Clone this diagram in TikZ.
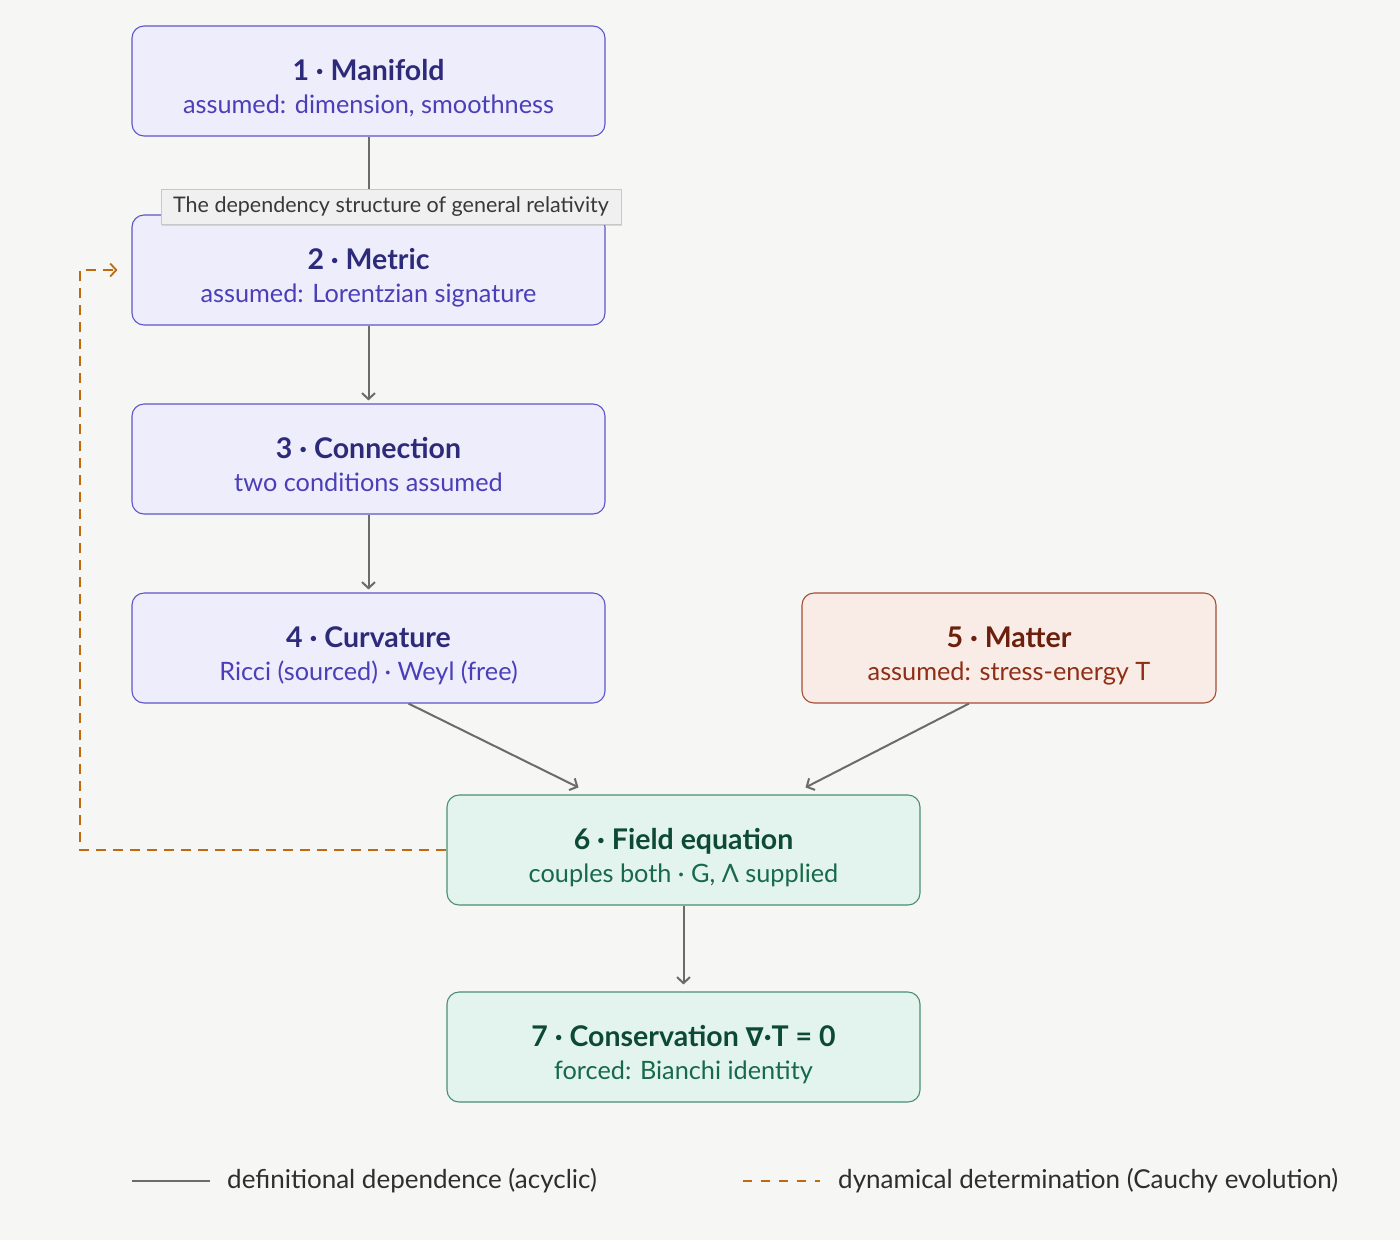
\documentclass[tikz,border=0pt]{standalone}
\usepackage{fontspec}
\setmainfont{Lato}
\newfontfamily\symfont{DejaVu Sans}
\usetikzlibrary{arrows.meta,calc,shadows}
\definecolor{bg}{HTML}{F6F7F4}
\definecolor{pfill}{HTML}{EEEDFC}
\definecolor{pdraw}{HTML}{5E55CA}
\definecolor{ptitle}{HTML}{2E2A7A}
\definecolor{psub}{HTML}{4A3FB8}
\definecolor{mfill}{HTML}{F9EBE6}
\definecolor{mdraw}{HTML}{A64D33}
\definecolor{mtitle}{HTML}{6B1F0C}
\definecolor{msub}{HTML}{8F2E14}
\definecolor{gfill}{HTML}{E3F4EE}
\definecolor{gdraw}{HTML}{4A8F74}
\definecolor{gtitle}{HTML}{0D4A35}
\definecolor{gsub}{HTML}{17694B}
\definecolor{edge}{HTML}{6B6B69}
\definecolor{dyn}{HTML}{BF6A0E}
\tikzset{
  box/.style={rounded corners=12pt, line width=1.1pt, minimum width=473pt, minimum height=110pt, inner sep=0pt},
  pbox/.style={box, fill=pfill, draw=pdraw},
  mbox/.style={box, fill=mfill, draw=mdraw, minimum width=414pt},
  gbox/.style={box, fill=gfill, draw=gdraw},
  ttl/.style={anchor=base, inner sep=0pt, font=\fontsize{28.5}{32}\selectfont\bfseries},
  sub/.style={anchor=base, inner sep=0pt, font=\fontsize{25.3}{29}\selectfont},
  defdep/.style={draw=edge, line width=2pt, -{Straight Barb[length=6pt,width=13pt]}},
  dynline/.style={draw=dyn, line width=1.8pt, dash pattern=on 10pt off 7pt},
  legtext/.style={anchor=west, font=\fontsize{26}{30}\selectfont, text=black!82, inner sep=0pt},
}
% \boxnode{name}{style}{x}{y}{titlecolor}{title}{subcolor}{sub}
\newcommand{\boxnode}[8]{%
  \node[#2] (#1) at (#3,#4) {};
  \node[ttl, text=#5] (#1-t) at ($(#1.center)+(0,-1)$) {#6};
  \node[sub, text=#7] (#1-s) at ($(#1.center)+(0,32)$) {#8};
}
\begin{document}
\begin{tikzpicture}[x=1pt,y=-1pt]
\fill[bg] (0,0) rectangle (1400,1240);
\useasboundingbox (0,0) rectangle (1400,1240);

\boxnode{b1}{pbox}{368.5}{81}{ptitle}{1 · Manifold}{psub}{assumed: dimension, smoothness}
\boxnode{b2}{pbox}{368.5}{270}{ptitle}{2 · Metric}{psub}{assumed: Lorentzian signature}
\boxnode{b3}{pbox}{368.5}{459}{ptitle}{3 · Connection}{psub}{two conditions assumed}
\boxnode{b4}{pbox}{368.5}{648}{ptitle}{4 · Curvature}{psub}{Ricci (sourced) · Weyl (free)}
\boxnode{b5}{mbox}{1009}{648}{mtitle}{5 · Matter}{msub}{assumed: stress-energy T}
\boxnode{b6}{gbox}{683.5}{850}{gtitle}{6 · Field equation}{gsub}{couples both · G, Λ supplied}
\boxnode{b7}{gbox}{683.5}{1047}{gtitle}{7 · Conservation {\symfont\fontsize{26}{30}\selectfont\bfseries ∇}·T = 0}{gsub}{forced: Bianchi identity}

\draw[defdep, shorten >=3pt] (b1) -- (b2);
\draw[defdep, shorten >=3pt] (b2) -- (b3);
\draw[defdep, shorten >=3pt] (b3) -- (b4);
\draw[defdep] ($(b4.south)+(40,0)$) -- ($(b6.north)+(-105,-7)$);
\draw[defdep] ($(b5.south)+(-40,0)$) -- ($(b6.north)+(122,-7)$);
\draw[defdep, shorten >=7pt] (b6) -- (b7);

\coordinate (dl) at (80,850);
\coordinate (du) at (80,270);
\draw[dynline, -{Straight Barb[length=6pt,width=13pt]}, shorten >=14pt] (b6.west) -- (dl) -- (du) -- (b2.west);

\node[fill=black!6, draw=black!22, line width=0.8pt, drop shadow={shadow xshift=1pt, shadow yshift=-2pt, opacity=0.25},
      minimum width=460pt, minimum height=35pt, inner sep=0pt, font=\fontsize{21.5}{25}\selectfont, text=black!78]
      (tip) at (391,206.5) {The dependency structure of general relativity};

\coordinate (l1a) at (132,1181);
\coordinate (l1b) at (210,1181);
\draw[draw=edge, line width=2.5pt] (l1a) -- (l1b);
\node[legtext] (l1t) at (227,1181) {definitional dependence (acyclic)};
\coordinate (l2a) at (743,1181);
\coordinate (l2b) at (820,1181);
\draw[draw=dyn, line width=2pt, dash pattern=on 9pt off 9pt] (l2a) -- (l2b);
\node[legtext] (l2t) at (838,1181) {dynamical determination (Cauchy evolution)};
\end{tikzpicture}
\end{document}
